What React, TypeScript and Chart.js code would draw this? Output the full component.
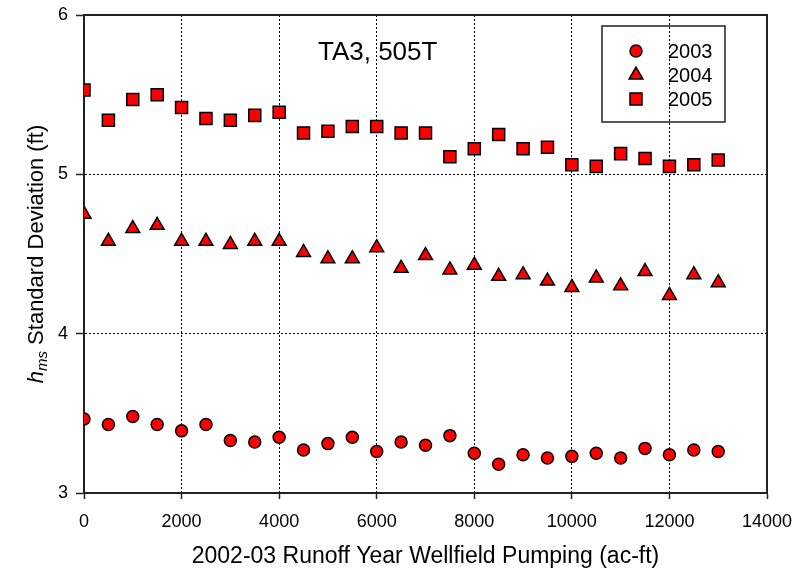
import React, { useEffect, useRef } from 'react';
import { Chart, registerables } from 'chart.js';

Chart.register(...registerables);

const pumping = [0, 500, 1000, 1500, 2000, 2500, 3000, 3500, 4000, 4500, 5000, 5500, 6000, 6500, 7000, 7500, 8000, 8500, 9000, 9500, 10000, 10500, 11000, 11500, 12000, 12500, 13000];
const sd2003 = [3.465, 3.43, 3.48, 3.43, 3.39, 3.43, 3.33, 3.32, 3.35, 3.27, 3.31, 3.35, 3.26, 3.32, 3.30, 3.36, 3.25, 3.18, 3.24, 3.22, 3.23, 3.25, 3.22, 3.28, 3.24, 3.27, 3.26];
const sd2004 = [4.75, 4.58, 4.66, 4.68, 4.58, 4.58, 4.56, 4.58, 4.58, 4.51, 4.47, 4.47, 4.54, 4.41, 4.49, 4.40, 4.43, 4.36, 4.37, 4.33, 4.29, 4.35, 4.30, 4.39, 4.24, 4.37, 4.32];
const sd2005 = [5.53, 5.34, 5.47, 5.50, 5.42, 5.35, 5.34, 5.37, 5.39, 5.26, 5.27, 5.30, 5.30, 5.26, 5.26, 5.11, 5.16, 5.25, 5.16, 5.17, 5.06, 5.05, 5.13, 5.10, 5.05, 5.06, 5.09];
const seriesNames = ['2003', '2004', '2005'];
const seriesShapes = ['circle', 'triangle', 'rect'];
const xTickValues = [0, 2000, 4000, 6000, 8000, 10000, 12000, 14000];
const yTickValues = [3, 4, 5, 6];
const chartTitle = 'TA3, 505T';
const xTitle = '2002-03 Runoff Year Wellfield Pumping (ac-ft)';
const yTitleItalic = 'h';
const yTitleSub = 'ms';
const yTitleRest = ' Standard Deviation (ft)';

const FONT = '"Liberation Sans", Arial, Helvetica, sans-serif';
const RED = '#ff0000';
const DARK = '#222222';

function drawMarker(ctx: CanvasRenderingContext2D, shape: string, x: number, y: number) {
  ctx.save();
  ctx.fillStyle = RED;
  ctx.strokeStyle = '#000';
  ctx.lineWidth = 1.5;
  ctx.beginPath();
  if (shape === 'circle') {
    ctx.arc(x, y, 6, 0, Math.PI * 2);
  } else if (shape === 'triangle') {
    const r = 8;
    ctx.moveTo(x, y - r);
    ctx.lineTo(x + r * Math.sin((2 * Math.PI) / 3), y + r / 2);
    ctx.lineTo(x - r * Math.sin((2 * Math.PI) / 3), y + r / 2);
    ctx.closePath();
  } else {
    ctx.rect(x - 6, y - 6, 12, 12);
  }
  ctx.fill();
  ctx.stroke();
  ctx.restore();
}

const decorPlugin = {
  id: 'decor',
  beforeDatasetsDraw(chart: any) {
    const { ctx, chartArea } = chart;
    ctx.save();
    ctx.strokeStyle = DARK;
    ctx.lineWidth = 2;
    ctx.strokeRect(chartArea.left, chartArea.top, chartArea.right - chartArea.left, chartArea.bottom - chartArea.top);
    ctx.restore();
  },
  afterDraw(chart: any) {
    const { ctx, chartArea } = chart;
    const { left, right, top, bottom } = chartArea;
    ctx.save();
    // chart title
    ctx.fillStyle = '#000';
    ctx.font = `26px ${FONT}`;
    ctx.textAlign = 'center';
    ctx.textBaseline = 'middle';
    ctx.fillText(chartTitle, left + (right - left) * 0.43, top + 38);

    // x title
    ctx.font = `23px ${FONT}`;
    ctx.fillText(xTitle, (left + right) / 2, bottom + 64);

    // y title
    ctx.save();
    ctx.translate(35, (top + bottom) / 2);
    ctx.rotate(-Math.PI / 2);
    ctx.textAlign = 'left';
    ctx.textBaseline = 'alphabetic';
    const fItal = `italic 22px ${FONT}`;
    const fSub = `italic 15px ${FONT}`;
    const fMain = `22px ${FONT}`;
    ctx.font = fItal;
    const wh = ctx.measureText(yTitleItalic).width;
    ctx.font = fSub;
    const wm = ctx.measureText(yTitleSub).width;
    ctx.font = fMain;
    const wr = ctx.measureText(yTitleRest).width;
    let x = -(wh + wm + wr) / 2;
    ctx.font = fItal;
    ctx.fillText(yTitleItalic, x, 8);
    x += wh;
    ctx.font = fSub;
    ctx.fillText(yTitleSub, x, 12);
    x += wm;
    ctx.font = fMain;
    ctx.fillText(yTitleRest, x, 8);
    ctx.restore();

    // legend
    const bx = right - 165;
    const by = top + 11;
    ctx.strokeStyle = DARK;
    ctx.lineWidth = 1.5;
    ctx.strokeRect(bx, by, 123, 96);
    ctx.font = `20px ${FONT}`;
    ctx.textAlign = 'left';
    ctx.textBaseline = 'middle';
    ctx.fillStyle = '#000';
    seriesNames.forEach((name, i) => {
      const yy = by + 25 + i * 24;
      drawMarker(ctx, seriesShapes[i], bx + 34, yy);
      ctx.fillStyle = '#000';
      ctx.fillText(name, bx + 66, yy + 1);
    });
    ctx.restore();
  },
};

export default function App() {
  const ref = useRef<HTMLCanvasElement | null>(null);
  useEffect(() => {
    if (!ref.current) return;
    const series = [sd2003, sd2004, sd2005];
    const radii = [6, 8, 8.5];
    const chart = new Chart(ref.current, {
      type: 'scatter',
      data: {
        datasets: series.map((vals, i) => ({
          label: seriesNames[i],
          data: pumping.map((p, j) => ({ x: p, y: vals[j] })),
          pointStyle: seriesShapes[i] as any,
          pointRadius: radii[i],
          pointHoverRadius: radii[i],
          backgroundColor: RED,
          borderColor: '#000',
          pointBorderWidth: 1.5,
          borderWidth: 1.5,
          showLine: false,
        })),
      },
      options: {
        responsive: false,
        animation: false,
        devicePixelRatio: 1,
        events: [],
        layout: { padding: { left: 0, right: 27, top: 15, bottom: 0 } },
        plugins: { legend: { display: false }, tooltip: { enabled: false }, title: { display: false } },
        scales: {
          x: {
            type: 'linear',
            min: 0,
            max: 14000,
            afterBuildTicks: (s: any) => { s.ticks = xTickValues.map((v) => ({ value: v })); },
            afterFit: (s: any) => { s.height = 82; s.paddingLeft = 0; s.paddingRight = 0; },
            ticks: { color: '#000', font: { family: FONT, size: 18 }, padding: 12, maxRotation: 0, autoSkip: false, callback: (v: any) => String(v) },
            grid: {
              color: (c: any) => (c.tick && (c.tick.value === 0 || c.tick.value === 14000) ? 'rgba(0,0,0,0)' : '#000'),
              lineWidth: 1,
              tickLength: 6,
              tickColor: DARK,
              tickWidth: 1.5,
              tickBorderDash: [],
            } as any,
            border: { display: true, color: DARK, width: 2, dash: [2, 2] } as any,
          },
          y: {
            type: 'linear',
            min: 3,
            max: 6,
            afterBuildTicks: (s: any) => { s.ticks = yTickValues.map((v) => ({ value: v })); },
            afterFit: (s: any) => { s.width = 84; s.paddingTop = 0; s.paddingBottom = 0; },
            ticks: { color: '#000', font: { family: FONT, size: 18 }, padding: 8, callback: (v: any) => String(v) },
            grid: {
              color: (c: any) => (c.tick && (c.tick.value === 3 || c.tick.value === 6) ? 'rgba(0,0,0,0)' : '#000'),
              lineWidth: 1,
              tickLength: 8,
              tickColor: DARK,
              tickWidth: 1.5,
              tickBorderDash: [],
            } as any,
            border: { display: true, color: DARK, width: 2, dash: [2, 2] } as any,
          },
        },
      },
      plugins: [decorPlugin],
    });
    return () => chart.destroy();
  }, []);
  return (
    <div style={{ position: 'fixed', left: 0, top: 0, width: 794, height: 575, background: '#fff' }}>
      <canvas ref={ref} width={794} height={575} style={{ display: 'block' }} />
    </div>
  );
}
